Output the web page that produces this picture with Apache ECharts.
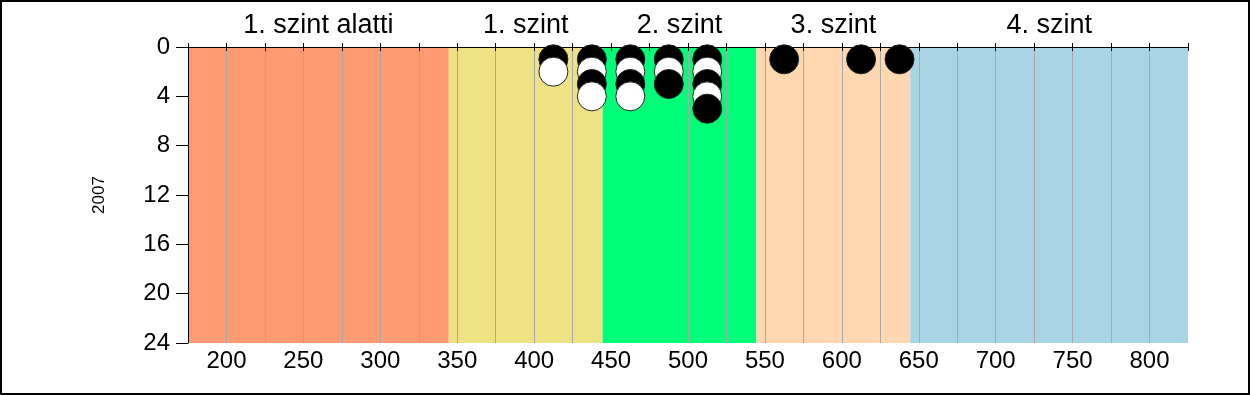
<!DOCTYPE html>
<html>
<head>
<meta charset="utf-8">
<script src="https://cdn.jsdelivr.net/npm/echarts@6/dist/echarts.min.js"></script>
<style>
  html, body { margin: 0; padding: 0; background: #fff; }
  #frame { width: 1250px; height: 395px; box-sizing: border-box; border: 2px solid #000; position: relative; }
  #chart { position: absolute; left: -2px; top: -2px; width: 1250px; height: 395px; }
</style>
</head>
<body>
<div id="frame"><div id="chart"></div></div>
<script>
// Score bands (background) and their names
const bandNames = ['1. szint alatti', '1. szint', '2. szint', '3. szint', '4. szint'];
const bandEdges = [175, 344.5, 444.5, 544.5, 644.5, 825];
const bandColors = ['#FF9A72', '#EEE285', '#00FF78', '#FFD8B2', '#A8D4E4'];

// Axis settings
const xMin = 175, xMax = 825, xStep = 25, xLabelStep = 50;
const yMin = 0, yMax = 24, yStep = 4;
const yAxisName = '2007';

// Dots (one per student): score, stack position, fill
const dotX = [412.5, 412.5,
              437.5, 437.5, 437.5, 437.5,
              462.5, 462.5, 462.5, 462.5,
              487.5, 487.5, 487.5,
              512.5, 512.5, 512.5, 512.5, 512.5,
              562.5, 612.5, 637.5];
const dotY = [1, 2,
              1, 2, 3, 4,
              1, 2, 3, 4,
              1, 2, 3,
              1, 2, 3, 4, 5,
              1, 1, 1];
const dotFill = ['#000', '#fff',
                 '#000', '#fff', '#000', '#fff',
                 '#000', '#fff', '#000', '#fff',
                 '#000', '#fff', '#000',
                 '#000', '#fff', '#000', '#fff', '#000',
                 '#000', '#000', '#000'];

const font = 'Liberation Sans, Arial, sans-serif';

const areas = bandNames.map((n, i) => [
  { name: n, xAxis: bandEdges[i], itemStyle: { color: bandColors[i], opacity: 1 } },
  { xAxis: bandEdges[i + 1] }
]);

const points = dotX.map((x, i) => ({
  value: [x, dotY[i]],
  itemStyle: { color: dotFill[i], borderColor: '#222', borderWidth: 1, opacity: 1 }
}));

const chart = echarts.init(document.getElementById('chart'), null, { renderer: 'canvas' });
chart.setOption({
  animation: false,
  grid: { left: 188, right: 62, top: 47, bottom: 52, containLabel: false },
  xAxis: [
    {
      type: 'value', position: 'bottom', min: xMin, max: xMax, interval: xStep, z: 1.5,
      axisLine: { show: true, lineStyle: { color: '#000', width: 1 } },
      axisTick: { show: true, inside: false, length: 4, lineStyle: { color: '#000' } },
      axisLabel: {
        show: true, margin: 6, fontSize: 24, color: '#000', fontFamily: font,
        formatter: v => (v % xLabelStep === 0 ? String(v) : '')
      },
      splitLine: { show: true, showMinLine: false, showMaxLine: false, lineStyle: { color: '#A8A8A8', width: 1, opacity: 1 } }
    },
    {
      type: 'value', position: 'top', min: xMin, max: xMax, interval: xStep, z: 1.5,
      axisLine: { show: true, lineStyle: { color: '#000', width: 1 } },
      axisTick: { show: true, inside: false, length: 4, lineStyle: { color: '#000' } },
      axisLabel: { show: false },
      splitLine: { show: false }
    }
  ],
  yAxis: {
    type: 'value', inverse: true, min: yMin, max: yMax, interval: yStep, z: 1.5,
    name: yAxisName, nameLocation: 'middle', nameRotate: 90, nameGap: 80,
    nameTextStyle: { fontSize: 17, color: '#000', fontFamily: font },
    axisLine: { show: true, lineStyle: { color: '#000', width: 1 } },
    axisTick: { show: true, inside: false, length: 12, lineStyle: { color: '#000' } },
    axisLabel: { show: true, margin: 18, fontSize: 24, color: '#000', fontFamily: font },
    splitLine: { show: false }
  },
  series: [
    {
      type: 'scatter', xAxisIndex: 0, yAxisIndex: 0, z: 3,
      symbol: 'circle', symbolSize: 29,
      itemStyle: { opacity: 1 },
      data: points,
      markArea: {
        silent: true,
        label: { show: true, position: 'top', distance: 8, fontSize: 27, color: '#000', fontFamily: font },
        data: areas
      }
    }
  ]
});
</script>
</body>
</html>
